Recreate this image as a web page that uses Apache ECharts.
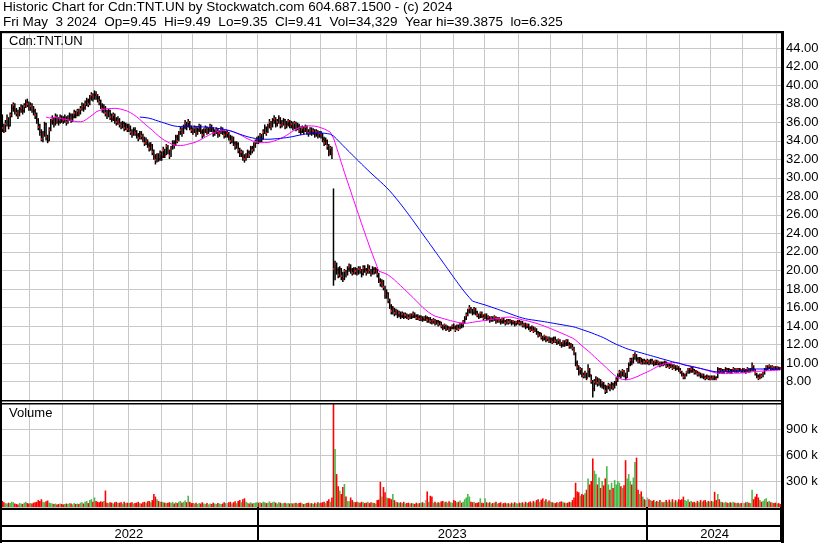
<!DOCTYPE html>
<html lang="en">
<head>
<meta charset="UTF-8">
<title>Cdn:TNT.UN</title>
<script src="https://cdn.jsdelivr.net/npm/echarts@6/dist/echarts.min.js"></script>
<style>
  html, body { margin: 0; padding: 0; background: #fff; }
  #main { width: 830px; height: 543px; }
</style>
</head>
<body>
<div id="main"></div>
<script>
// one row per trading day: [close, high, low, volume in thousands]
var may22 = [[36.6,37.8,36.0,60],[35.4,36.8,35.0,70],[35.1,35.8,34.9,55],[35.8,36.2,35.0,45],[36.4,36.8,35.6,40],[35.6,36.5,35.3,50],[36.8,37.0,35.6,45],[37.6,37.9,36.6,60],[37.9,38.1,37.2,55],[37.2,38.0,36.9,40],[37.0,37.5,36.7,35],[36.8,37.3,36.4,30],[37.4,37.6,36.7,45],[37.6,37.9,37.1,40],[37.2,37.8,36.9,35],[37.8,38.0,37.1,50],[38.2,38.4,37.6,60],[38.0,38.5,37.7,45],[37.6,38.2,37.3,40]];
var jun22 = [[37.8,38.1,37.3,45],[37.5,38.0,37.1,40],[37.2,37.7,36.8,50],[36.8,37.4,36.4,55],[36.2,37.0,35.9,60],[35.5,36.4,35.2,80],[35.0,35.8,34.6,70],[34.2,35.2,34.0,90],[34.6,35.0,33.9,60],[35.8,36.0,34.5,55],[34.4,35.9,34.1,65],[34.0,34.6,33.8,75],[35.2,35.4,34.0,50],[36.0,36.3,35.1,45],[36.4,36.7,35.8,40],[35.8,36.5,35.5,35],[36.6,36.9,35.7,40],[36.2,36.8,35.9,30],[36.0,36.5,35.7,35],[36.5,36.8,35.9,40],[36.3,36.7,36.0,35]];
var jul22 = [[36.2,36.6,35.9,30],[36.5,36.8,36.0,35],[36.0,36.6,35.7,40],[36.4,36.7,35.9,35],[36.8,37.0,36.2,45],[36.3,36.9,36.0,40],[36.6,36.9,36.1,30],[37.0,37.3,36.5,45],[36.8,37.2,36.5,35],[37.2,37.4,36.7,40],[37.0,37.4,36.7,35],[37.4,37.7,36.9,50],[37.8,38.1,37.3,55],[37.5,38.0,37.2,40],[38.0,38.3,37.4,60],[38.3,38.6,37.8,70],[38.0,38.5,37.7,45],[38.6,38.9,37.9,80],[38.9,39.2,38.4,90],[38.7,39.1,38.3,60]];
var aug22 = [[39.0,39.39,38.5,110],[38.9,39.3,38.5,70],[38.6,39.0,38.2,60],[38.2,38.8,37.9,55],[37.8,38.4,37.5,65],[37.4,38.0,37.1,60],[37.6,37.9,37.0,70],[37.0,37.7,36.7,190],[36.8,37.3,36.4,50],[37.2,37.4,36.6,45],[36.6,37.3,36.3,55],[36.4,36.9,36.1,50],[36.8,37.0,36.2,40],[36.2,36.9,35.9,55],[36.0,36.5,35.7,60],[36.3,36.6,35.8,45],[35.8,36.4,35.5,50],[35.6,36.0,35.3,55],[35.9,36.1,35.4,40],[35.4,36.0,35.1,60],[35.7,35.9,35.2,45],[35.3,35.8,35.0,50]];
var sep22 = [[35.4,35.8,35.0,45],[35.0,35.6,34.7,50],[34.7,35.2,34.4,55],[35.2,35.4,34.6,40],[34.9,35.4,34.6,45],[34.6,35.1,34.3,50],[34.3,34.8,34.0,60],[34.8,35.0,34.2,45],[34.5,35.0,34.2,40],[34.2,34.7,33.9,55],[33.8,34.4,33.5,60],[34.0,34.3,33.6,45],[33.6,34.1,33.3,65],[33.2,33.8,32.9,70],[33.5,33.8,33.0,55],[32.8,33.6,32.5,80],[32.3,33.0,32.0,150],[31.9,32.5,31.5,120],[32.4,32.6,31.7,90],[32.0,32.6,31.8,70],[32.6,32.9,31.9,60]];
var oct22 = [[32.2,32.8,31.9,60],[33.0,33.3,32.2,55],[32.5,33.1,32.2,50],[33.4,33.6,32.5,45],[32.9,33.5,32.6,50],[32.4,33.0,32.1,55],[33.2,33.4,32.3,45],[33.8,34.0,33.1,60],[33.5,34.0,33.2,40],[34.4,34.6,33.5,55],[34.0,34.6,33.8,45],[34.8,35.0,34.0,60],[35.2,35.5,34.7,70],[34.8,35.4,34.5,50],[35.5,35.7,34.8,60],[35.9,36.2,35.3,75],[35.6,36.0,35.2,55],[36.0,36.3,35.5,130],[35.4,36.1,35.2,60],[35.2,35.6,34.9,45]];
var nov22 = [[35.0,35.4,34.7,45],[35.4,35.6,34.9,40],[34.8,35.5,34.5,50],[35.2,35.4,34.7,35],[35.6,35.8,35.0,45],[35.0,35.7,34.8,40],[34.6,35.2,34.3,55],[35.1,35.3,34.5,40],[35.4,35.6,34.9,35],[34.9,35.5,34.7,45],[35.2,35.4,34.8,30],[35.6,35.8,35.0,40],[35.3,35.7,35.0,35],[34.8,35.4,34.5,50],[35.0,35.2,34.6,40],[35.2,35.4,34.8,35],[34.7,35.3,34.4,45],[34.9,35.1,34.5,40],[35.3,35.5,34.8,35],[35.0,35.4,34.7,40],[34.6,35.1,34.3,55],[34.8,35.0,34.4,45]];
var dec22 = [[34.8,35.1,34.4,45],[34.4,34.9,34.1,55],[34.0,34.6,33.7,60],[34.3,34.5,33.8,40],[33.8,34.4,33.5,55],[33.4,33.9,33.1,65],[33.7,33.9,33.2,45],[33.0,33.8,32.7,70],[32.6,33.2,32.3,80],[32.8,33.0,32.3,55],[32.2,32.9,31.9,90],[32.0,32.5,31.7,100],[32.4,32.6,31.9,60],[32.8,33.0,32.2,50],[32.5,32.9,32.2,40],[33.2,33.4,32.5,55],[33.0,33.4,32.7,40],[33.6,33.8,32.9,45],[33.9,34.1,33.3,50],[34.2,34.4,33.7,55]];
var jan23 = [[34.0,34.5,33.7,50],[34.6,34.8,33.9,55],[34.2,34.7,33.9,45],[35.0,35.2,34.2,60],[35.4,35.7,34.8,55],[34.9,35.5,34.6,45],[35.6,35.8,34.9,50],[36.0,36.3,35.4,65],[35.5,36.1,35.2,45],[36.2,36.4,35.5,55],[36.4,36.7,35.9,60],[35.8,36.5,35.5,50],[36.0,36.3,35.6,40],[36.5,36.7,35.9,55],[35.7,36.5,35.4,50],[35.9,36.2,35.5,40],[36.2,36.4,35.7,45],[35.6,36.3,35.3,50],[35.8,36.1,35.4,40],[36.1,36.3,35.6,45],[35.7,36.2,35.4,40]];
var feb23 = [[35.8,36.1,35.4,45],[35.5,36.0,35.2,40],[35.9,36.1,35.3,45],[35.4,36.0,35.1,50],[35.6,35.9,35.2,40],[35.2,35.8,34.9,45],[35.0,35.5,34.7,50],[35.4,35.6,34.9,40],[35.1,35.5,34.8,35],[35.5,35.7,35.0,40],[35.0,35.6,34.7,45],[34.8,35.2,34.5,50],[35.2,35.4,34.7,40],[34.9,35.4,34.6,45],[35.1,35.3,34.7,35],[34.7,35.2,34.4,50],[35.0,35.2,34.5,40],[34.6,35.1,34.3,55],[34.8,35.0,34.4,45]];
var mar23 = [[34.6,35.0,34.3,50],[34.2,34.8,33.9,55],[33.8,34.4,33.5,60],[34.0,34.3,33.6,45],[33.4,34.1,33.1,70],[32.8,33.6,32.4,90],[33.2,33.4,32.5,60],[32.6,33.3,32.1,110],[20.2,28.8,18.4,1500],[20.7,21.0,19.0,670],[20.0,20.8,19.6,380],[19.5,20.3,19.2,240],[20.1,20.4,19.3,190],[19.4,20.2,19.0,150],[19.1,19.8,18.8,230],[19.9,20.1,19.0,265],[19.6,20.0,19.3,120],[20.2,20.4,19.5,70],[20.5,20.7,19.9,65],[20.0,20.6,19.7,110],[19.7,20.2,19.5,80],[20.1,20.3,19.6,60],[19.9,20.3,19.6,55]];
var apr23 = [[19.8,20.2,19.5,60],[20.2,20.4,19.6,55],[20.0,20.4,19.7,50],[19.6,20.1,19.3,60],[20.3,20.5,19.5,55],[20.1,20.5,19.8,45],[19.8,20.2,19.5,50],[20.4,20.6,19.7,60],[20.0,20.5,19.7,45],[19.7,20.1,19.4,55],[20.2,20.4,19.6,50],[19.9,20.3,19.6,45],[20.1,20.3,19.7,40],[19.6,20.1,19.3,80],[19.0,19.7,18.7,85],[18.6,19.1,18.3,290],[18.8,19.0,18.2,120],[18.2,18.9,17.9,230],[17.4,18.3,17.0,170]];
var may23 = [[17.6,17.9,17.0,110],[16.8,17.6,16.5,100],[16.2,16.9,15.9,100],[15.6,16.3,15.3,90],[15.9,16.1,15.3,150],[15.4,15.9,15.1,80],[15.6,15.8,15.2,60],[15.2,15.7,14.9,55],[15.4,15.6,15.0,50],[15.1,15.5,14.8,55],[15.3,15.5,14.9,45],[15.0,15.4,14.8,60],[15.2,15.4,14.9,40],[15.1,15.3,14.8,45],[14.9,15.2,14.7,50],[15.2,15.3,14.8,40],[15.0,15.3,14.8,45],[15.3,15.5,14.9,40],[15.1,15.4,14.9,35],[14.9,15.2,14.7,50],[15.0,15.2,14.7,40],[14.8,15.1,14.6,45]];
var jun23 = [[14.9,15.1,14.6,50],[14.7,15.0,14.5,55],[14.9,15.0,14.6,45],[14.9,15.1,14.6,80],[14.6,15.0,14.4,180],[14.8,14.9,14.4,60],[14.5,14.9,14.3,130],[14.4,14.7,14.2,120],[14.6,14.8,14.3,50],[14.3,14.7,14.1,60],[14.5,14.6,14.2,45],[14.2,14.6,14.0,55],[14.4,14.5,14.1,50],[14.0,14.4,13.8,65],[13.8,14.1,13.6,70],[14.1,14.2,13.7,55],[13.7,14.1,13.5,60],[13.9,14.0,13.6,50],[13.6,13.9,13.4,65],[13.8,13.9,13.5,55],[14.0,14.1,13.7,50]];
var jul23 = [[13.9,14.2,13.7,80],[13.6,14.0,13.4,70],[14.0,14.1,13.6,55],[13.7,14.1,13.5,60],[14.2,14.3,13.7,75],[14.0,14.3,13.8,50],[14.4,14.6,13.9,60],[14.8,15.0,14.3,90],[15.2,15.4,14.7,110],[15.6,15.8,15.1,150],[15.9,16.2,15.4,120],[15.7,16.0,15.4,60],[15.4,15.8,15.2,55],[15.8,16.0,15.3,60],[15.5,15.9,15.2,45],[15.2,15.6,15.0,50],[15.0,15.3,14.8,55],[15.4,15.5,14.9,100],[15.1,15.5,14.9,50],[14.9,15.2,14.7,45]];
var aug23 = [[15.2,15.3,14.8,100],[14.8,15.3,14.6,55],[15.0,15.1,14.7,45],[14.6,15.0,14.4,55],[14.9,15.0,14.5,40],[14.7,15.0,14.5,45],[15.0,15.1,14.6,50],[14.5,15.0,14.3,60],[14.8,14.9,14.4,40],[14.6,14.9,14.4,45],[14.4,14.7,14.2,55],[14.7,14.8,14.3,40],[14.5,14.8,14.3,45],[14.3,14.6,14.1,50],[14.6,14.7,14.2,40],[14.4,14.7,14.2,45],[14.6,14.7,14.3,35],[14.3,14.6,14.1,50],[14.5,14.6,14.2,40],[14.2,14.5,14.0,55],[14.4,14.5,14.1,45],[14.5,14.6,14.2,40]];
var sep23 = [[14.3,14.6,14.1,50],[14.4,14.5,14.1,45],[14.1,14.5,13.9,55],[14.2,14.3,13.9,40],[13.9,14.3,13.7,60],[14.1,14.2,13.8,45],[13.8,14.2,13.6,55],[13.6,13.9,13.4,65],[13.9,14.0,13.5,50],[13.5,13.9,13.3,70],[13.7,13.8,13.4,55],[13.3,13.7,13.1,80],[13.0,13.4,12.8,90],[13.2,13.3,12.9,60],[12.8,13.2,12.6,85],[12.6,12.9,12.4,100],[12.9,13.0,12.5,70],[12.5,12.9,12.3,90],[12.7,12.8,12.4,60],[12.4,12.8,12.2,75]];
var oct23 = [[12.6,12.7,12.2,60],[12.3,12.7,12.1,55],[12.7,12.8,12.2,50],[12.4,12.8,12.2,45],[12.2,12.5,12.0,55],[12.5,12.6,12.1,50],[12.1,12.5,11.9,60],[11.9,12.2,11.7,65],[12.3,12.4,11.8,55],[12.0,12.4,11.8,50],[12.4,12.5,11.9,45],[12.1,12.5,11.9,50],[11.8,12.2,11.6,60],[12.0,12.1,11.6,55],[11.6,12.0,11.4,80],[11.2,11.7,10.9,110],[10.0,11.1,9.7,280],[9.6,10.2,9.3,180],[9.0,9.7,8.7,170],[9.3,9.5,8.8,130],[8.8,9.4,8.5,150]];
var nov23 = [[8.6,8.9,8.4,140],[8.9,9.1,8.4,160],[8.4,8.9,8.2,200],[9.4,9.8,8.5,330],[8.7,9.4,8.5,260],[8.0,8.7,7.8,300],[7.2,8.1,6.33,560],[7.9,8.2,7.0,420],[8.3,8.5,7.7,380],[7.8,8.4,7.5,260],[8.1,8.3,7.6,340],[7.6,8.2,7.4,220],[7.9,8.0,7.3,300],[7.5,7.9,7.2,250],[7.0,7.6,6.7,330],[7.4,7.5,6.8,470],[7.6,7.8,7.2,260],[7.3,7.7,7.0,200],[7.7,7.9,7.2,280],[7.4,7.8,7.1,220],[7.8,8.0,7.3,310],[8.2,8.4,7.6,260]];
var dec23 = [[8.6,8.8,8.0,300],[9.0,9.2,8.5,280],[8.7,9.1,8.4,240],[9.1,9.3,8.6,220],[8.8,9.2,8.5,250],[8.4,8.9,8.2,540],[9.2,9.4,8.4,330],[9.8,10.0,9.1,380],[10.3,10.5,9.7,300],[10.1,10.5,9.8,260],[10.7,10.9,10.0,340],[10.9,11.1,10.4,520],[10.4,10.9,10.2,570],[10.2,10.6,10.0,200],[10.5,10.6,10.0,150],[10.0,10.5,9.9,180],[10.3,10.4,9.9,120],[10.1,10.4,9.9,90],[10.2,10.3,9.9,80]];
var jan24 = [[10.2,10.4,9.9,110],[10.0,10.3,9.8,90],[10.3,10.4,9.9,80],[10.1,10.4,9.9,70],[9.9,10.2,9.7,80],[10.2,10.3,9.8,60],[10.0,10.3,9.8,70],[10.1,10.2,9.8,60],[9.8,10.1,9.6,80],[10.0,10.1,9.7,60],[9.9,10.1,9.7,55],[10.1,10.2,9.8,60],[9.7,10.1,9.5,80],[9.9,10.0,9.6,60],[9.6,9.9,9.4,85],[9.8,9.9,9.5,60],[9.5,9.8,9.3,90],[9.7,9.8,9.4,55],[9.4,9.7,9.2,80],[9.6,9.7,9.3,60],[9.3,9.6,9.1,90]];
var feb24 = [[9.1,9.4,8.9,80],[8.8,9.1,8.6,90],[8.5,8.9,8.3,120],[8.7,8.8,8.3,80],[9.0,9.1,8.6,70],[9.3,9.4,8.9,90],[9.1,9.4,8.9,60],[9.4,9.5,9.0,70],[9.2,9.5,9.0,55],[9.0,9.3,8.8,60],[9.1,9.2,8.8,50],[8.8,9.1,8.6,70],[8.9,9.0,8.6,55],[8.6,8.9,8.4,80],[8.7,8.8,8.4,60],[8.5,8.8,8.3,75],[8.4,8.6,8.2,80],[8.6,8.7,8.3,55],[8.4,8.6,8.2,70],[8.5,8.6,8.2,60]];
var mar24 = [[8.3,8.6,8.2,70],[8.5,8.6,8.2,60],[8.4,8.6,8.2,175],[8.3,8.5,8.2,80],[9.3,9.5,8.4,150],[9.1,9.4,8.9,90],[9.3,9.4,9.0,60],[9.0,9.3,8.9,55],[9.2,9.3,8.9,50],[9.4,9.5,9.1,60],[9.1,9.4,9.0,50],[9.3,9.4,9.0,45],[9.0,9.3,8.9,55],[9.2,9.3,8.9,50],[9.4,9.5,9.1,60],[9.1,9.4,9.0,50],[9.3,9.4,9.0,45],[9.2,9.4,9.0,50],[9.3,9.4,9.1,40],[9.2,9.3,9.0,45]];
var apr24 = [[9.2,9.4,9.0,50],[9.3,9.4,9.0,45],[9.1,9.3,8.9,55],[9.4,9.5,9.1,60],[9.2,9.4,9.0,50],[9.3,9.4,9.1,45],[9.7,10.0,9.2,200],[9.3,9.7,9.2,90],[8.9,9.3,8.7,120],[8.6,8.9,8.4,150],[8.4,8.7,8.2,110],[8.7,8.8,8.3,80],[8.6,8.8,8.4,60],[8.9,9.0,8.5,70],[9.3,9.4,8.8,90],[9.6,9.7,9.2,100],[9.5,9.7,9.3,60],[9.7,9.8,9.4,70],[9.4,9.7,9.3,55],[9.6,9.7,9.3,50],[9.5,9.6,9.3,45],[9.4,9.6,9.3,50]];
var may24 = [[9.5,9.6,9.3,40],[9.45,9.55,9.35,45],[9.41,9.49,9.35,34.329]];

var monthKeys = ['2022-05','2022-06','2022-07','2022-08','2022-09','2022-10','2022-11','2022-12',
                 '2023-01','2023-02','2023-03','2023-04','2023-05','2023-06','2023-07','2023-08',
                 '2023-09','2023-10','2023-11','2023-12','2024-01','2024-02','2024-03','2024-04','2024-05'];
var monthRows = [may22, jun22, jul22, aug22, sep22, oct22, nov22, dec22,
                 jan23, feb23, mar23, apr23, may23, jun23, jul23, aug23,
                 sep23, oct23, nov23, dec23, jan24, feb24, mar24, apr24, may24];

var titleLine1 = 'Historic Chart for Cdn:TNT.UN by Stockwatch.com 604.687.1500 - (c) 2024';
var titleLine2 = 'Fri May  3 2024  Op=9.45  Hi=9.49  Lo=9.35  Cl=9.41  Vol=34,329  Year hi=39.3875  lo=6.325';

// flatten the month tables
var cats = [], closes = [], bars = [], vols = [];
var monthStart = {}, yearFirst = {}, yearLast = {};
monthRows.forEach(function (rows, m) {
    var key = monthKeys[m], yr = key.slice(0, 4);
    rows.forEach(function (r, d) {
        var i = cats.length;
        if (d === 0 && m > 0) monthStart[i] = true;
        if (yearFirst[yr] === undefined) yearFirst[yr] = i;
        yearLast[yr] = i;
        cats.push(key + '-' + (d + 1));
        closes.push(r[0]);
        bars.push([i, r[0], r[1], r[2]]);
        vols.push(r[3]);
    });
});
var yearTick = {}, yearMid = {};
Object.keys(yearFirst).forEach(function (y) {
    if (yearFirst[y] > 0) yearTick[yearFirst[y]] = true;
    yearMid[Math.round((yearFirst[y] + yearLast[y]) / 2)] = true;
});

function sma(n) {
    return closes.map(function (c, i) {
        if (i < n - 1) return '-';
        var s = 0;
        for (var k = i - n + 1; k <= i; k++) s += closes[k];
        return +(s / n).toFixed(3);
    });
}

var volData = vols.map(function (v, i) {
    var prev = i ? closes[i - 1] : closes[i];
    var col = closes[i] > prev ? '#4cb84c' : (closes[i] < prev ? '#ff0000' : '#a8a8a8');
    return { value: v * 1000, itemStyle: { color: col } };
});

var gridColor = '#c8c8c8';
var font = 'Arial, "Liberation Sans", sans-serif';

function frame(x, y, w, h) {
    return { type: 'rect', z: 100, shape: { x: x, y: y, width: w, height: h }, style: { fill: '#000' } };
}
function label(x, y, s, size) {
    return { type: 'text', z: 100, x: x, y: y, style: { text: s, fill: '#000', fontSize: size, fontFamily: font } };
}

var myChart = echarts.init(document.getElementById('main'));
var option = {
    animation: false,
    backgroundColor: '#fff',
    grid: [
        { left: 0, right: 49, top: 33, height: 367 },
        { left: 0, right: 49, top: 403, height: 104 }
    ],
    xAxis: [
        {
            type: 'category', gridIndex: 0, data: cats, boundaryGap: true,
            axisLine: { show: false }, axisTick: { show: false }, axisLabel: { show: false },
            splitLine: { show: true, interval: function (i) { return !!monthStart[i]; }, lineStyle: { color: gridColor, width: 1 } }
        },
        {
            type: 'category', gridIndex: 1, data: cats, boundaryGap: true,
            axisLine: { show: false },
            axisTick: { show: true, interval: function (i) { return !!yearTick[i]; }, length: 34, lineStyle: { color: '#000', width: 2 } },
            axisLabel: {
                show: true, interval: function (i) { return !!yearMid[i]; },
                formatter: function (v) { return v.slice(0, 4); },
                margin: 21, fontSize: 13, color: '#000', fontFamily: font
            },
            splitLine: { show: true, interval: function (i) { return !!monthStart[i]; }, lineStyle: { color: gridColor, width: 1 } }
        }
    ],
    yAxis: [
        {
            type: 'value', gridIndex: 0, position: 'right', min: 6, max: 45.65, interval: 2,
            axisLine: { show: false }, axisTick: { show: false },
            axisLabel: { showMinLabel: false, showMaxLabel: false, margin: 5, fontSize: 13, color: '#000', fontFamily: font,
                formatter: function (v) { return v.toFixed(2); } },
            splitLine: { lineStyle: { color: gridColor, width: 1 } }
        },
        {
            type: 'value', gridIndex: 1, position: 'right', min: 0, max: 1200000, interval: 300000,
            axisLine: { show: false }, axisTick: { show: false },
            axisLabel: { showMinLabel: false, showMaxLabel: false, margin: 5, fontSize: 13, color: '#000', fontFamily: font,
                formatter: function (v) { return (v / 1000) + ' k'; } },
            splitLine: { lineStyle: { color: gridColor, width: 1 } }
        }
    ],
    series: [
        {
            // high-low bar in black, close marked in red
            type: 'custom', xAxisIndex: 0, yAxisIndex: 0, data: bars, encode: { x: 0, y: [1, 2, 3] }, z: 2,
            renderItem: function (params, api) {
                var hi = api.coord([api.value(0), api.value(2)]);
                var lo = api.coord([api.value(0), api.value(3)]);
                var cl = api.coord([api.value(0), api.value(1)]);
                var x = hi[0];
                return {
                    type: 'group', children: [
                        { type: 'line', shape: { x1: x, y1: hi[1] - 0.5, x2: x, y2: lo[1] + 0.5 }, style: { stroke: '#000', lineWidth: 1.5 } },
                        { type: 'rect', shape: { x: Math.round(x), y: Math.round(cl[1]) - 1, width: 1, height: 2 }, style: { fill: '#ff0000' } }
                    ]
                };
            }
        },
        {
            type: 'line', xAxisIndex: 0, yAxisIndex: 0, data: sma(30), symbol: 'none', z: 3,
            lineStyle: { color: '#ff00ff', width: 1 }, itemStyle: { color: '#ff00ff' }
        },
        {
            type: 'line', xAxisIndex: 0, yAxisIndex: 0, data: sma(90), symbol: 'none', z: 3,
            lineStyle: { color: '#0000ff', width: 1 }, itemStyle: { color: '#0000ff' }
        },
        {
            type: 'bar', xAxisIndex: 1, yAxisIndex: 1, data: volData, barWidth: 1.6
        }
    ],
    graphic: { elements: [
        label(3, 0, titleLine1, 13.5),
        label(3, 15, titleLine2, 13.5),
        label(9, 35, 'Cdn:TNT.UN', 13),
        label(9, 407, 'Volume', 13),
        frame(0, 31, 784, 2),
        frame(0, 31, 2, 512),
        frame(781, 31, 3, 512),
        frame(0, 400, 782, 1.5),
        frame(0, 403, 782, 1.5),
        frame(0, 508, 782, 2),
        frame(0, 525, 782, 2),
        frame(0, 540, 782, 2)
    ] }
};
myChart.setOption(option);
</script>
</body>
</html>
